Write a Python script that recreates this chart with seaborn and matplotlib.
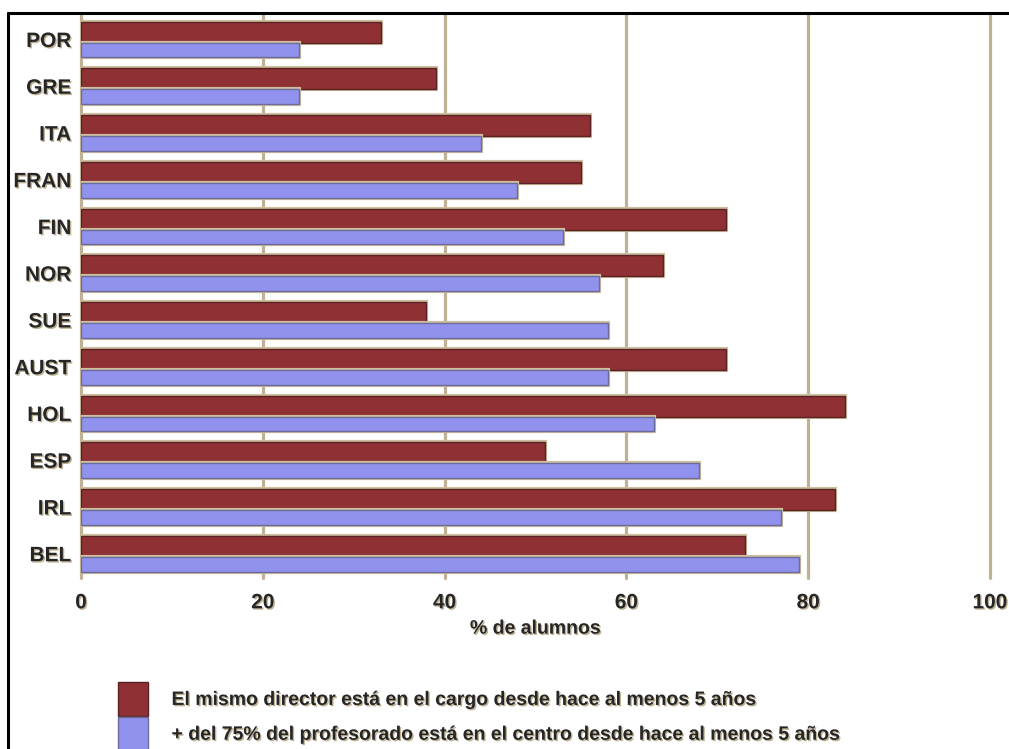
import numpy as np
import pandas as pd
import matplotlib
matplotlib.use("Agg")
import matplotlib.pyplot as plt
import matplotlib.patheffects as pe
from matplotlib.lines import Line2D
import seaborn as sns

# --- data ---
paises = ["POR", "GRE", "ITA", "FRAN", "FIN", "NOR", "SUE", "AUST", "HOL", "ESP", "IRL", "BEL"]
director = [33, 39, 56, 55, 71, 64, 38, 71, 84, 51, 83, 73]
profesorado = [24, 24, 44, 48, 53, 57, 58, 58, 63, 68, 77, 79]
series = [
    "El mismo director está en el cargo desde hace al menos 5 años",
    "+ del 75% del profesorado está en el centro desde hace al menos 5 años",
]
ticks_x = [0, 20, 40, 60, 80, 100]

df = pd.DataFrame({
    "pais": paises * 2,
    "valor": director + profesorado,
    "serie": [series[0]] * len(paises) + [series[1]] * len(paises),
})

RED = "#8E3034"
BLUE = "#9191EE"
TAN = "#BFB193"

sns.set_style("white")
plt.rcParams["font.family"] = ["Liberation Sans", "DejaVu Sans"]
plt.rcParams["font.weight"] = "bold"

W, H = 1009, 749
fig = plt.figure(figsize=(W / 100, H / 100), dpi=100)
ax = fig.add_axes([81 / W, 1 - 578 / H, (990 - 81) / W, (578 - 14) / H])

sns.barplot(data=df, y="pais", x="valor", hue="serie", orient="h",
            palette=[RED, BLUE], width=0.762, dodge=True, ax=ax,
            linewidth=1, saturation=1)

# red bars are a bit thicker than the blue ones in the original
halo = [pe.Stroke(linewidth=3, foreground="#CDBF9F"), pe.Normal()]
for bar in ax.containers[0]:
    bar.set_height(0.449)
    bar.set_edgecolor("#5A2224")
    bar.set_path_effects(halo)
for bar in ax.containers[1]:
    bar.set_y(bar.get_y() + 0.068)
    bar.set_height(0.313)
    bar.set_edgecolor("#6C6C9C")
    bar.set_path_effects(halo)

ax.set_xlim(0, 100)
ax.set_ylim(11.52, -0.545)
ax.set_xticks(ticks_x)
ax.set_axisbelow(True)
ax.grid(axis="x", color=TAN, linewidth=2.3)
ax.grid(axis="y", visible=False)
for gl in ax.get_xgridlines():
    gl.set_clip_on(False)
for s in ax.spines.values():
    s.set_visible(False)

shadow = [pe.withSimplePatchShadow(offset=(1, -1), shadow_rgbFace=TAN, alpha=1)]
ax.tick_params(axis="x", length=0, pad=11, labelsize=15)
ax.tick_params(axis="y", length=0, pad=7, labelsize=15)
for t in ax.get_xticklabels() + ax.get_yticklabels():
    t.set_fontweight("bold")
    t.set_path_effects(shadow)
ax.set_ylabel("")
ax.set_xlabel("% de alumnos", fontsize=14, fontweight="bold", labelpad=6,
              path_effects=shadow)

handles, labels = ax.get_legend_handles_labels()
ax.get_legend().remove()
handles[0].set_edgecolor("#5A2224")
handles[1].set_edgecolor("#6C6C9C")
leg = fig.legend(handles, labels, loc="upper left",
                 bbox_to_anchor=(118 / W, 1 - 682 / H),
                 frameon=False, borderpad=0, borderaxespad=0,
                 handlelength=1.55, handleheight=2.3, handletextpad=1.2,
                 labelspacing=0.05, prop={"size": 14, "weight": "bold"})
for t in leg.get_texts():
    t.set_path_effects(shadow)

# black frame of the original picture (top and left)
fig.add_artist(Line2D([8 / W, 1.0], [1 - 13 / H, 1 - 13 / H], color="black", linewidth=2.2))
fig.add_artist(Line2D([8 / W, 8 / W], [1 - 13 / H, 0.0], color="black", linewidth=2.2))

fig.savefig("out.png", dpi=100)
